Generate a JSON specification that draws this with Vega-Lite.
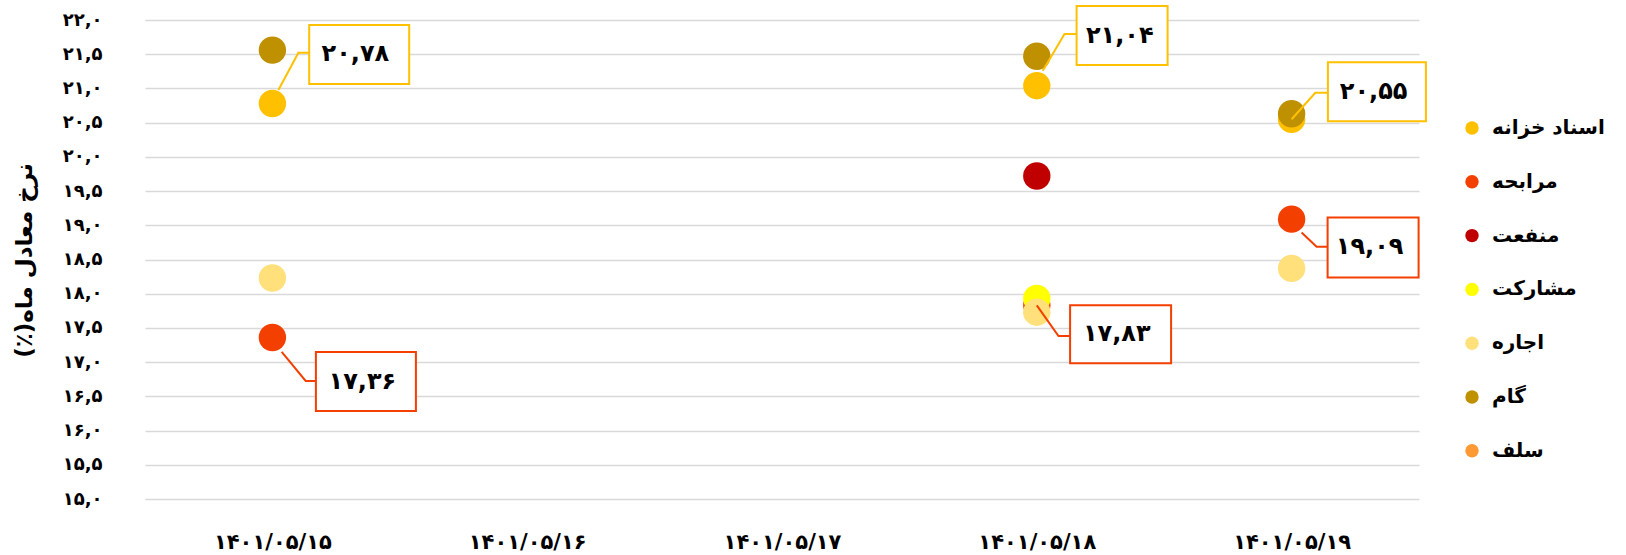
{
  "$schema": "https://vega.github.io/schema/vega-lite/v6.json",
  "width": 1274,
  "height": 479,
  "autosize": {"type": "none"},
  "padding": {"left": 145, "top": 20, "right": 207, "bottom": 56},
  "background": "white",
  "config": {
    "locale": {"number": {"decimal": ",", "thousands": ".", "grouping": [3], "currency": ["", ""], "numerals": ["۰","۱","۲","۳","۴","۵","۶","۷","۸","۹"]}},
    "view": {"stroke": null},
    "font": "DejaVu Sans"
  },
  "data": {"values": [
    {"date": "۱۴۰۱/۰۵/۱۵", "series": "اسناد خزانه", "value": 20.78},
    {"date": "۱۴۰۱/۰۵/۱۸", "series": "اسناد خزانه", "value": 21.04},
    {"date": "۱۴۰۱/۰۵/۱۹", "series": "اسناد خزانه", "value": 20.55},
    {"date": "۱۴۰۱/۰۵/۱۵", "series": "مرابحه", "value": 17.36},
    {"date": "۱۴۰۱/۰۵/۱۸", "series": "مرابحه", "value": 17.83},
    {"date": "۱۴۰۱/۰۵/۱۹", "series": "مرابحه", "value": 19.09},
    {"date": "۱۴۰۱/۰۵/۱۸", "series": "منفعت", "value": 19.72},
    {"date": "۱۴۰۱/۰۵/۱۸", "series": "مشارکت", "value": 17.93},
    {"date": "۱۴۰۱/۰۵/۱۵", "series": "اجاره", "value": 18.23},
    {"date": "۱۴۰۱/۰۵/۱۸", "series": "اجاره", "value": 17.73},
    {"date": "۱۴۰۱/۰۵/۱۹", "series": "اجاره", "value": 18.37},
    {"date": "۱۴۰۱/۰۵/۱۵", "series": "گام", "value": 21.56},
    {"date": "۱۴۰۱/۰۵/۱۸", "series": "گام", "value": 21.47},
    {"date": "۱۴۰۱/۰۵/۱۹", "series": "گام", "value": 20.63}
  ]},
  "encoding": {
    "x": {
      "field": "date", "type": "nominal", "sort": null,
      "scale": {"type": "point", "padding": 0.5, "domain": ["۱۴۰۱/۰۵/۱۵", "۱۴۰۱/۰۵/۱۶", "۱۴۰۱/۰۵/۱۷", "۱۴۰۱/۰۵/۱۸", "۱۴۰۱/۰۵/۱۹"]},
      "axis": {"title": null, "labelAngle": 0, "labelFontSize": 21, "labelFontWeight": "bold", "labelColor": "#000000", "ticks": false, "domain": false, "grid": false, "labelPadding": 32}
    },
    "y": {
      "field": "value", "type": "quantitative",
      "scale": {"domain": [15, 22], "nice": false, "zero": false},
      "axis": {
        "title": "نرخ معادل ماه(٪)\u200f",
        "values": [15, 15.5, 16, 16.5, 17, 17.5, 18, 18.5, 19, 19.5, 20, 20.5, 21, 21.5, 22],
        "format": ".1f",
        "labelFontSize": 18, "labelFontWeight": "bold", "labelColor": "#000000",
        "ticks": false, "domain": false, "labelPadding": 43,
        "gridColor": "#D9D9D9", "gridWidth": 1.5,
        "titleFontSize": 23, "titleFontWeight": "bold", "titleColor": "#000000",
        "titleX": -109, "titleY": 240
      }
    }
  },
  "layer": [
    {
      "mark": {"type": "circle", "size": 750, "opacity": 1},
      "encoding": {
        "color": {
          "field": "series", "type": "nominal",
          "scale": {
            "domain": ["اسناد خزانه", "مرابحه", "منفعت", "مشارکت", "اجاره", "گام", "سلف"],
            "range": ["#FFC000", "#F33F00", "#C00000", "#FFFF00", "#FFE07A", "#BF9000", "#FF9933"]
          },
          "legend": {
            "title": null, "orient": "none", "legendX": 1317, "legendY": 98, "padding": 0,
            "symbolType": "circle", "symbolSize": 180, "symbolOpacity": 1, "symbolStrokeWidth": 0,
            "labelFontSize": 20, "labelFontWeight": "bold", "labelColor": "#000000", "labelLimit": 400,
            "rowPadding": 33.8, "labelOffset": 10
          }
        }
      }
    },
    {
      "transform": [{"filter": "datum.date == '۱۴۰۱/۰۵/۱۵' && datum.series == 'اسناد خزانه'"}],
      "layer": [
        {"mark": {"type": "point", "shape": "M6,-13.4L26,-50.7L37,-50.7", "size": 4, "filled": false, "stroke": "#FFC000", "strokeWidth": 2, "opacity": 1}},
        {"mark": {"type": "point", "shape": "M36.8,-78.4h100v59h-100z", "size": 4, "filled": true, "fill": "#FFFFFF", "stroke": "#FFC000", "strokeWidth": 2, "opacity": 1}},
        {"mark": {"type": "text", "dx": 83, "dy": -49, "fontSize": 24, "fontWeight": "bold", "fill": "#000000"}, "encoding": {"text": {"field": "value", "format": ".2f"}}}
      ]
    },
    {
      "transform": [{"filter": "datum.date == '۱۴۰۱/۰۵/۱۵' && datum.series == 'مرابحه'"}],
      "layer": [
        {"mark": {"type": "point", "shape": "M9.3,14.4L33.3,43.4L43.7,43.4", "size": 4, "filled": false, "stroke": "#F33F00", "strokeWidth": 2, "opacity": 1}},
        {"mark": {"type": "point", "shape": "M43.5,14.5h100v59h-100z", "size": 4, "filled": true, "fill": "#FFFFFF", "stroke": "#F33F00", "strokeWidth": 2, "opacity": 1}},
        {"mark": {"type": "text", "dx": 90, "dy": 44, "fontSize": 24, "fontWeight": "bold", "fill": "#000000"}, "encoding": {"text": {"field": "value", "format": ".2f"}}}
      ]
    },
    {
      "transform": [{"filter": "datum.date == '۱۴۰۱/۰۵/۱۸' && datum.series == 'اسناد خزانه'"}],
      "layer": [
        {"mark": {"type": "point", "shape": "M6,-15L27.7,-51.7L39.7,-51.7", "size": 4, "filled": false, "stroke": "#FFC000", "strokeWidth": 2, "opacity": 1}},
        {"mark": {"type": "point", "shape": "M39.8,-79.8h91v59h-91z", "size": 4, "filled": true, "fill": "#FFFFFF", "stroke": "#FFC000", "strokeWidth": 2, "opacity": 1}},
        {"mark": {"type": "text", "dx": 83, "dy": -50, "fontSize": 24, "fontWeight": "bold", "fill": "#000000"}, "encoding": {"text": {"field": "value", "format": ".2f"}}}
      ]
    },
    {
      "transform": [{"filter": "datum.date == '۱۴۰۱/۰۵/۱۹' && datum.series == 'اسناد خزانه'"}],
      "layer": [
        {"mark": {"type": "point", "shape": "M0,0L23.7,-26.5L36.3,-26.5", "size": 4, "filled": false, "stroke": "#FFC000", "strokeWidth": 2, "opacity": 1}},
        {"mark": {"type": "point", "shape": "M36.3,-57h98v59h-98z", "size": 4, "filled": true, "fill": "#FFFFFF", "stroke": "#FFC000", "strokeWidth": 2, "opacity": 1}},
        {"mark": {"type": "text", "dx": 82, "dy": -27.5, "fontSize": 24, "fontWeight": "bold", "fill": "#000000"}, "encoding": {"text": {"field": "value", "format": ".2f"}}}
      ]
    },
    {
      "transform": [{"filter": "datum.date == '۱۴۰۱/۰۵/۱۸' && datum.series == 'مرابحه'"}],
      "layer": [
        {"mark": {"type": "point", "shape": "M0,0L21.7,30.7L33.3,30.7", "size": 4, "filled": false, "stroke": "#F33F00", "strokeWidth": 2, "opacity": 1}},
        {"mark": {"type": "point", "shape": "M33.3,0h101v58h-101z", "size": 4, "filled": true, "fill": "#FFFFFF", "stroke": "#F33F00", "strokeWidth": 2, "opacity": 1}},
        {"mark": {"type": "text", "dx": 80, "dy": 29, "fontSize": 24, "fontWeight": "bold", "fill": "#000000"}, "encoding": {"text": {"field": "value", "format": ".2f"}}}
      ]
    },
    {
      "transform": [{"filter": "datum.date == '۱۴۰۱/۰۵/۱۹' && datum.series == 'مرابحه'"}],
      "layer": [
        {"mark": {"type": "point", "shape": "M10,13.3L25,27.7L36,27.7", "size": 4, "filled": false, "stroke": "#F33F00", "strokeWidth": 2, "opacity": 1}},
        {"mark": {"type": "point", "shape": "M36,-1.7h91v60h-91z", "size": 4, "filled": true, "fill": "#FFFFFF", "stroke": "#F33F00", "strokeWidth": 2, "opacity": 1}},
        {"mark": {"type": "text", "dx": 78, "dy": 28, "fontSize": 24, "fontWeight": "bold", "fill": "#000000"}, "encoding": {"text": {"field": "value", "format": ".2f"}}}
      ]
    }
  ]
}
